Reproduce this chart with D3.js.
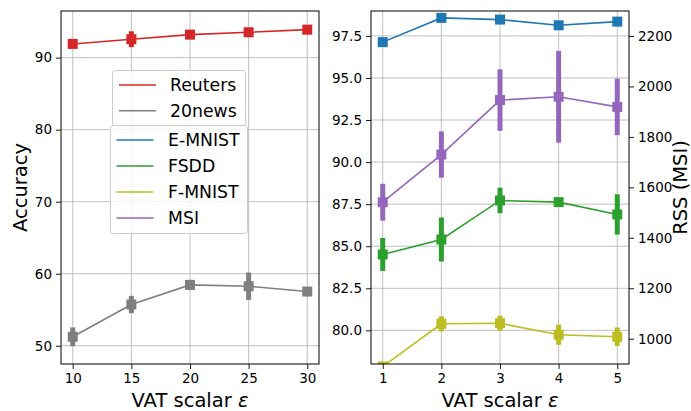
<!DOCTYPE html>
<html>
<head>
<meta charset="utf-8">
<script src="https://cdn.jsdelivr.net/npm/d3@7"></script>
<style>
  body { margin: 0; background: #fff; }
  text { font-family: "DejaVu Sans", sans-serif; fill: #000; }
</style>
</head>
<body>
<svg id="chart"></svg>
<script>
// Data
const vatLeft = [10, 15, 20, 25, 30];
const reutersAcc = [91.9, 92.55, 93.19, 93.52, 93.88];
const reutersErr = [0.3, 1.1, 0.35, 0.3, 0.3];
const news20Acc = [51.25, 55.73, 58.45, 58.27, 57.53];
const news20Err = [1.3, 1.2, 0.7, 1.9, 0.3];

const vatRight = [1, 2, 3, 4, 5];
const emnistAcc = [97.13, 98.57, 98.47, 98.13, 98.35];
const emnistErr = [0.1, 0.1, 0.1, 0.1, 0.1];
const fsddAcc = [84.51, 85.4, 87.72, 87.62, 86.89];
const fsddErr = [0.98, 1.31, 0.76, 0.2, 1.2];
const fmnistAcc = [77.85, 80.39, 80.42, 79.74, 79.62];
const fmnistErr = [0.1, 0.45, 0.45, 0.6, 0.55];
const msiRss = [1541, 1730, 1946, 1959, 1919];
const msiErr = [73, 92, 122, 182, 112];

const leftTicksX = [10, 15, 20, 25, 30];
const leftTicksY = [50, 60, 70, 80, 90];
const rightTicksX = [1, 2, 3, 4, 5];
const rightTicksY = [80.0, 82.5, 85.0, 87.5, 90.0, 92.5, 95.0, 97.5];
const rssTicks = [1000, 1200, 1400, 1600, 1800, 2000, 2200];

const legendTop = ["Reuters", "20news"];
const legendBottom = ["E-MNIST", "FSDD", "F-MNIST", "MSI"];

const colors = {
  "Reuters": "#d62728", "20news": "#7f7f7f", "E-MNIST": "#1f77b4",
  "FSDD": "#2ca02c", "F-MNIST": "#bcbd22", "MSI": "#9467bd"
};

const W = 691, H = 411;
const plotTop = 11, plotBottom = 364;
const tickFont = "13.5px";
const svg = d3.select("#chart").attr("width", W).attr("height", H);

const xL = d3.scaleLinear().domain([9, 31]).range([61, 319]);
const yL = d3.scaleLinear().domain([47.47, 96.47]).range([plotBottom, plotTop]);
const xR = d3.scaleLinear().domain([0.8, 5.2]).range([371, 629]);
const yR = d3.scaleLinear().domain([78.0, 98.98]).range([plotBottom, plotTop]);
const yRss = d3.scaleLinear().domain([899.7, 2299.1]).range([plotBottom, plotTop]);

function styleAxis(a) {
  a.select(".domain").remove();
  a.selectAll("text").style("font-size", tickFont).style("font-family", "DejaVu Sans");
  a.selectAll("line").attr("stroke-width", 0.9);
}

function panel(id, x, y, xTicks, yTicks, fmt) {
  const g = svg.append("g");
  const [x0, x1] = x.range();
  g.append("clipPath").attr("id", id).append("rect")
    .attr("x", x0).attr("y", plotTop).attr("width", x1 - x0).attr("height", plotBottom - plotTop);

  // grid
  g.append("g").selectAll("line").data(xTicks).join("line")
    .attr("x1", d => x(d)).attr("x2", d => x(d))
    .attr("y1", plotTop).attr("y2", plotBottom)
    .attr("stroke", "#b0b0b0").attr("stroke-width", 0.8);
  g.append("g").selectAll("line").data(yTicks).join("line")
    .attr("x1", x0).attr("x2", x1)
    .attr("y1", d => y(d)).attr("y2", d => y(d))
    .attr("stroke", "#b0b0b0").attr("stroke-width", 0.8);

  styleAxis(g.append("g").attr("transform", `translate(0,${plotBottom})`)
    .call(d3.axisBottom(x).tickValues(xTicks).tickSize(5).tickPadding(4).tickFormat(d3.format("d"))));
  styleAxis(g.append("g").attr("transform", `translate(${x0},0)`)
    .call(d3.axisLeft(y).tickValues(yTicks).tickSize(5).tickPadding(4).tickFormat(fmt)));
  return g;
}

function series(g, clip, x, y, xs, vals, errs, color) {
  const s = g.append("g").attr("clip-path", `url(#${clip})`);
  s.append("path")
    .datum(xs.map((d, i) => [d, vals[i]]))
    .attr("fill", "none").attr("stroke", color).attr("stroke-width", 1.6)
    .attr("d", d3.line().x(d => x(d[0])).y(d => y(d[1])));
  s.selectAll("line.err").data(xs).join("line").attr("class", "err")
    .attr("x1", d => x(d)).attr("x2", d => x(d))
    .attr("y1", (d, i) => y(vals[i] - errs[i]))
    .attr("y2", (d, i) => y(vals[i] + errs[i]))
    .attr("stroke", color).attr("stroke-width", 5);
  s.selectAll("rect").data(xs).join("rect")
    .attr("x", d => x(d) - 5).attr("y", (d, i) => y(vals[i]) - 5)
    .attr("width", 10).attr("height", 10).attr("fill", color);
}

function frame(x) {
  const [x0, x1] = x.range();
  svg.append("rect").attr("x", x0).attr("y", plotTop)
    .attr("width", x1 - x0).attr("height", plotBottom - plotTop)
    .attr("fill", "none").attr("stroke", "#000").attr("stroke-width", 1);
}

// Left panel
const gL = panel("clipL", xL, yL, leftTicksX, leftTicksY, d3.format("d"));
series(gL, "clipL", xL, yL, vatLeft, reutersAcc, reutersErr, colors["Reuters"]);
series(gL, "clipL", xL, yL, vatLeft, news20Acc, news20Err, colors["20news"]);
frame(xL);

// Right panel, MSI on the twin axis
const gR = panel("clipR", xR, yR, rightTicksX, rightTicksY, d3.format(".1f"));
series(gR, "clipR", xR, yR, vatRight, emnistAcc, emnistErr, colors["E-MNIST"]);
series(gR, "clipR", xR, yR, vatRight, fsddAcc, fsddErr, colors["FSDD"]);
series(gR, "clipR", xR, yR, vatRight, fmnistAcc, fmnistErr, colors["F-MNIST"]);
series(gR, "clipR", xR, yRss, vatRight, msiRss, msiErr, colors["MSI"]);
styleAxis(svg.append("g").attr("transform", `translate(629,0)`)
  .call(d3.axisRight(yRss).tickValues(rssTicks).tickSize(5).tickPadding(4).tickFormat(d3.format("d"))));
frame(xR);

// Axis labels
function xLabel(cx) {
  const t = svg.append("text").attr("x", cx).attr("y", 407).attr("text-anchor", "middle")
    .style("font-size", "19.5px");
  t.append("tspan").text("VAT scalar ");
  t.append("tspan").style("font-style", "italic").text("ε");
}
xLabel(190);
xLabel(500);
svg.append("text").attr("transform", "translate(27,187.5) rotate(-90)")
  .attr("text-anchor", "middle").style("font-size", "19.5px").text("Accuracy");
svg.append("text").attr("transform", "translate(687,187.5) rotate(-90)")
  .attr("text-anchor", "middle").style("font-size", "19.5px").text("RSS (MSI)");

// Legends
function legend(names, x, y, w, rowH, lineX, textX) {
  const g = svg.append("g");
  g.append("rect").attr("x", x).attr("y", y).attr("width", w)
    .attr("height", names.length * rowH + 4).attr("rx", 3)
    .attr("fill", "#fff").attr("fill-opacity", 0.8)
    .attr("stroke", "#cccccc").attr("stroke-width", 1);
  const rows = g.selectAll("g").data(names).join("g")
    .attr("transform", (d, i) => `translate(0,${y + 14.5 + i * rowH})`);
  rows.append("line").attr("x1", lineX).attr("x2", lineX + 37)
    .attr("stroke", d => colors[d]).attr("stroke-width", 1.6);
  rows.append("text").attr("x", textX).attr("y", 6.3)
    .style("font-size", "17.3px").text(d => d);
}
legend(legendTop, 112.5, 70.5, 133, 25.8, 119, 170);
legend(legendBottom, 110.5, 125.5, 137, 26, 116.5, 168);
</script>
</body>
</html>
